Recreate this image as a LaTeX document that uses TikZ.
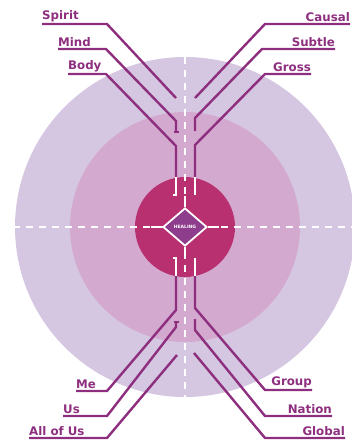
\documentclass[tikz,border=0pt]{standalone}
\usepackage{fontspec}
\setmainfont{DejaVu Sans}
\usetikzlibrary{shapes.geometric}
\definecolor{outerring}{HTML}{D5C7E1}
\definecolor{midring}{HTML}{D4A9CF}
\definecolor{corering}{HTML}{B8306F}
\definecolor{plum}{HTML}{8D2E7F}
\definecolor{gemfill}{HTML}{8E3C8C}

\begin{document}
\begin{tikzpicture}[x=1pt, y=-1pt,
  every node/.style={font=\bfseries\fontsize{11.8}{12}\selectfont, text=plum},
  lbl/.style={inner xsep=0pt, inner ysep=2.2pt},
  lead/.style={draw=plum, line width=2.4pt},
  axis/.style={white, line width=2.8pt, dash pattern=on 7pt off 6pt},
  tick/.style={white, line width=2.2pt}]
  \useasboundingbox (0,0) rectangle (352,440);

  % rings
  \fill[outerring] (185,227) circle (170pt);
  \fill[midring] (185,227) circle (115pt);
  \fill[corering] (185,227) circle (50pt);

  % dashed cross
  \coordinate (axT) at (185,57);
  \coordinate (axB) at (185,397);
  \coordinate (axL) at (0,227);
  \coordinate (axR) at (352,227);
  \draw[axis] (axL) -- (axR);
  \draw[axis] (axT) -- (axB);

  % left top labels
  \node[lbl, anchor=south west] (spirit) at (42,24) {Spirit};
  \node[lbl, anchor=south west] (mind) at (58,49) {Mind};
  \node[lbl, anchor=south west] (body) at (68,74) {Body};
  \coordinate (spirit-k) at (107,24);  \coordinate (spirit-e) at (176,98);
  \coordinate (mind-k) at (106,49);    \coordinate (mind-d) at (176,121);
  \coordinate (mind-e) at (176,132);
  \coordinate (body-k) at (106,74);    \coordinate (body-d) at (176,146);
  \coordinate (body-e) at (176,177);
  \draw[lead] (spirit.south west) -- (spirit-k) -- (spirit-e);
  \draw[lead] (mind.south west) -- (mind-k) -- (mind-d) -- (mind-e);
  \draw[lead] ([xshift=-2.5pt]mind-e) -- ([xshift=2.5pt]mind-e);
  \draw[lead] (body.south west) -- (body-k) -- (body-d) -- (body-e);

  % right top labels
  \node[lbl, anchor=south east] (causal) at (350,24) {Causal};
  \node[lbl, anchor=south east] (subtle) at (335,49) {Subtle};
  \node[lbl, anchor=south east] (gross) at (311,74) {Gross};
  \coordinate (causal-k) at (265,24);  \coordinate (causal-e) at (195,98);
  \coordinate (subtle-k) at (262,49);  \coordinate (subtle-d) at (195,118);
  \coordinate (subtle-e) at (195,131);
  \coordinate (gross-k) at (265,74);   \coordinate (gross-d) at (195,145);
  \coordinate (gross-e) at (195,177);
  \draw[lead] (causal.south east) -- (causal-k) -- (causal-e);
  \draw[lead] (subtle.south east) -- (subtle-k) -- (subtle-d) -- (subtle-e);
  \draw[lead] (gross.south east) -- (gross-k) -- (gross-d) -- (gross-e);

  % left bottom labels
  \node[lbl, anchor=south west] (me) at (76,391) {Me};
  \node[lbl, anchor=south west] (us) at (63,416) {Us};
  \node[lbl, anchor=south west] (allofus) at (29,438) {All of Us};
  \coordinate (me-k) at (107,391);     \coordinate (me-d) at (176,310);
  \coordinate (me-e) at (176,276);
  \coordinate (us-k) at (107,416);     \coordinate (us-d) at (176,327);
  \coordinate (us-e) at (176,322);
  \coordinate (allofus-k) at (107,438); \coordinate (allofus-e) at (177,355);
  \draw[lead] (me.south west) -- (me-k) -- (me-d) -- (me-e);
  \draw[lead] (us.south west) -- (us-k) -- (us-d) -- (us-e);
  \draw[lead] ([xshift=-2.5pt]us-e) -- ([xshift=2.5pt]us-e);
  \draw[lead] (allofus.south west) -- (allofus-k) -- (allofus-e);

  % right bottom labels
  \node[lbl, anchor=south east] (group) at (312,390) {Group};
  \node[lbl, anchor=south east] (nation) at (332,416) {Nation};
  \node[lbl, anchor=south east] (global) at (345,438) {Global};
  \coordinate (group-k) at (265,390);  \coordinate (group-d) at (195,308);
  \coordinate (group-e) at (195,276);
  \coordinate (nation-k) at (265,416); \coordinate (nation-d) at (195,330);
  \coordinate (nation-e) at (195,319);
  \coordinate (global-k) at (265,438); \coordinate (global-e) at (194,353);
  \draw[lead] (group.south east) -- (group-k) -- (group-d) -- (group-e);
  \draw[lead] (nation.south east) -- (nation-k) -- (nation-d) -- (nation-e);
  \draw[lead] (global.south east) -- (global-k) -- (global-e);

  % white ends inside the core
  \draw[tick] (body-e) -- ++(0,18) -- ++(-3,0);
  \draw[tick] (gross-e) -- ++(0,18);
  \draw[tick] (me-e) -- ++(0,-18) -- ++(-3,0);
  \draw[tick] (group-e) -- ++(0,-18);

  % centre diamond
  \node[diamond, draw=white, line width=1.8pt, fill=gemfill, inner sep=0pt,
        minimum width=44pt, minimum height=38pt,
        font=\bfseries\fontsize{4.5}{5}\selectfont, text=white] (core) at (185,227) {HEALING};
  \draw[tick] (core.north) -- ++(0,-11);
  \draw[tick] (core.south) -- ++(0,11);
  \draw[tick] (core.west) -- ++(-11,0);
  \draw[tick] (core.east) -- ++(11,0);
\end{tikzpicture}
\end{document}
